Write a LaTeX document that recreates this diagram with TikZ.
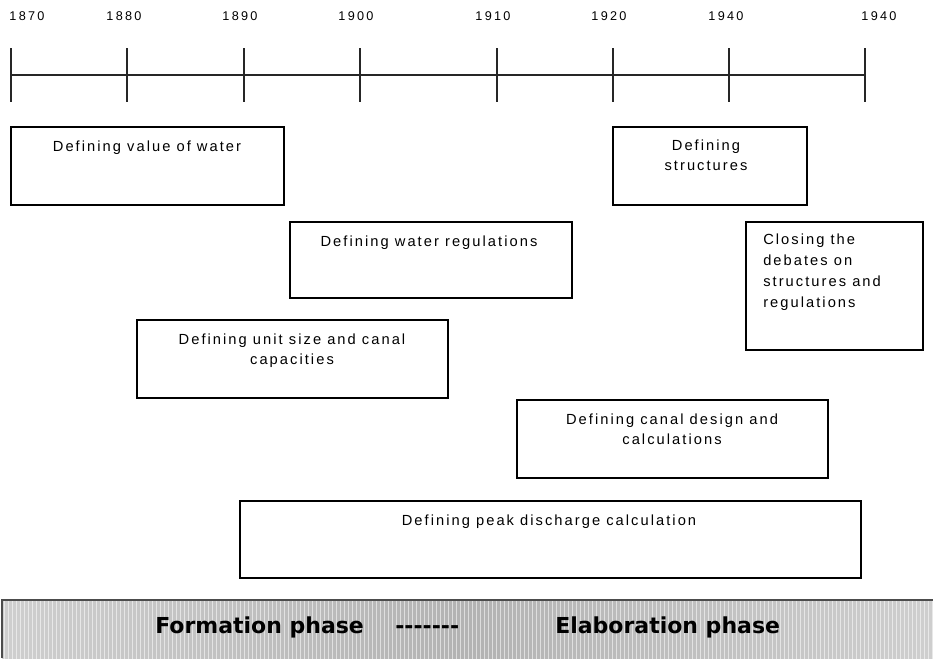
\documentclass[tikz,border=0pt]{standalone}
\usepackage{fontspec}
\setmainfont{Liberation Sans}[LetterSpace=18]
\newfontfamily\boxfont{Liberation Sans}[LetterSpace=14]
\newfontfamily\barfont{DejaVu Sans}
\usetikzlibrary{patterns}

\begin{document}
\begin{tikzpicture}[x=0.75pt,y=-0.75pt]
\tikzset{
  yearlabel/.style={inner sep=0pt,font=\fontsize{9.5pt}{12pt}\selectfont},
  phasebox/.style={draw=black,line width=0.9pt},
  boxtext/.style={inner sep=0pt,anchor=north,align=center,font=\boxfont\fontsize{11pt}{15pt}\selectfont},
  axisline/.style={draw=black!85,line width=1pt},
  bartext/.style={inner sep=0pt,anchor=base west,font=\barfont\bfseries\fontsize{16.5pt}{18pt}\selectfont}
}
\useasboundingbox (0,0) rectangle (933,658);
% time axis
\draw[axisline] (11,75) -- (865,75);
\foreach \tx in {11,127,244,360,497,613,729,865}
  \draw[axisline] (\tx,48) -- (\tx,102);
\node[yearlabel] (n_y1) at (27,16.5) {1870};
\node[yearlabel] (n_y2) at (124,16.5) {1880};
\node[yearlabel] (n_y3) at (240,16.5) {1890};
\node[yearlabel] (n_y4) at (356,16.5) {1900};
\node[yearlabel] (n_y5) at (493,16.5) {1910};
\node[yearlabel] (n_y6) at (609,16.5) {1920};
\node[yearlabel] (n_y7) at (726,16.5) {1940};
\node[yearlabel] (n_y8) at (879,16.5) {1940};
% boxes
\draw[phasebox] (11,127) rectangle (284,205);
\node[boxtext] (n_value) at (147,141) {Defining value of water};
\draw[phasebox] (613,127) rectangle (807,205);
\node[boxtext] (n_structures) at (706,140) {Defining\\structures};
\draw[phasebox] (290,222) rectangle (572,298);
\node[boxtext] (n_regulations) at (429,236) {Defining water regulations};
\draw[phasebox] (746,222) rectangle (923,350);
\node[boxtext,anchor=north west,align=left,font=\boxfont\fontsize{11pt}{15.75pt}\selectfont] (n_closing) at (763,234)
  {Closing the\\debates on\\structures and\\regulations};
\draw[phasebox] (137,320) rectangle (448,398);
\node[boxtext] (n_unitsize) at (292,334) {Defining unit size and canal\\capacities};
\draw[phasebox] (517,400) rectangle (828,478);
\node[boxtext] (n_canal) at (672,414) {Defining canal design and\\calculations};
\draw[phasebox] (240,501) rectangle (861,578);
\node[boxtext] (n_peak) at (549,515) {Defining peak discharge calculation};
% phase bar
\shade[left color=gray!38,right color=gray!38,middle color=gray!60] (2,600) rectangle (933,658);
\fill[pattern=vertical lines,pattern color=white,opacity=0.55] (2,600) rectangle (933,658);
\draw[draw=black!70,line width=1.2pt] (2,658) -- (2,600) -- (933,600);
\node[bartext] (n_formation) at (155,633) {Formation phase};
\node[bartext] (n_dashes) at (395,633) {-------};
\node[bartext] (n_elaboration) at (555,633) {Elaboration phase};
\end{tikzpicture}
\end{document}
